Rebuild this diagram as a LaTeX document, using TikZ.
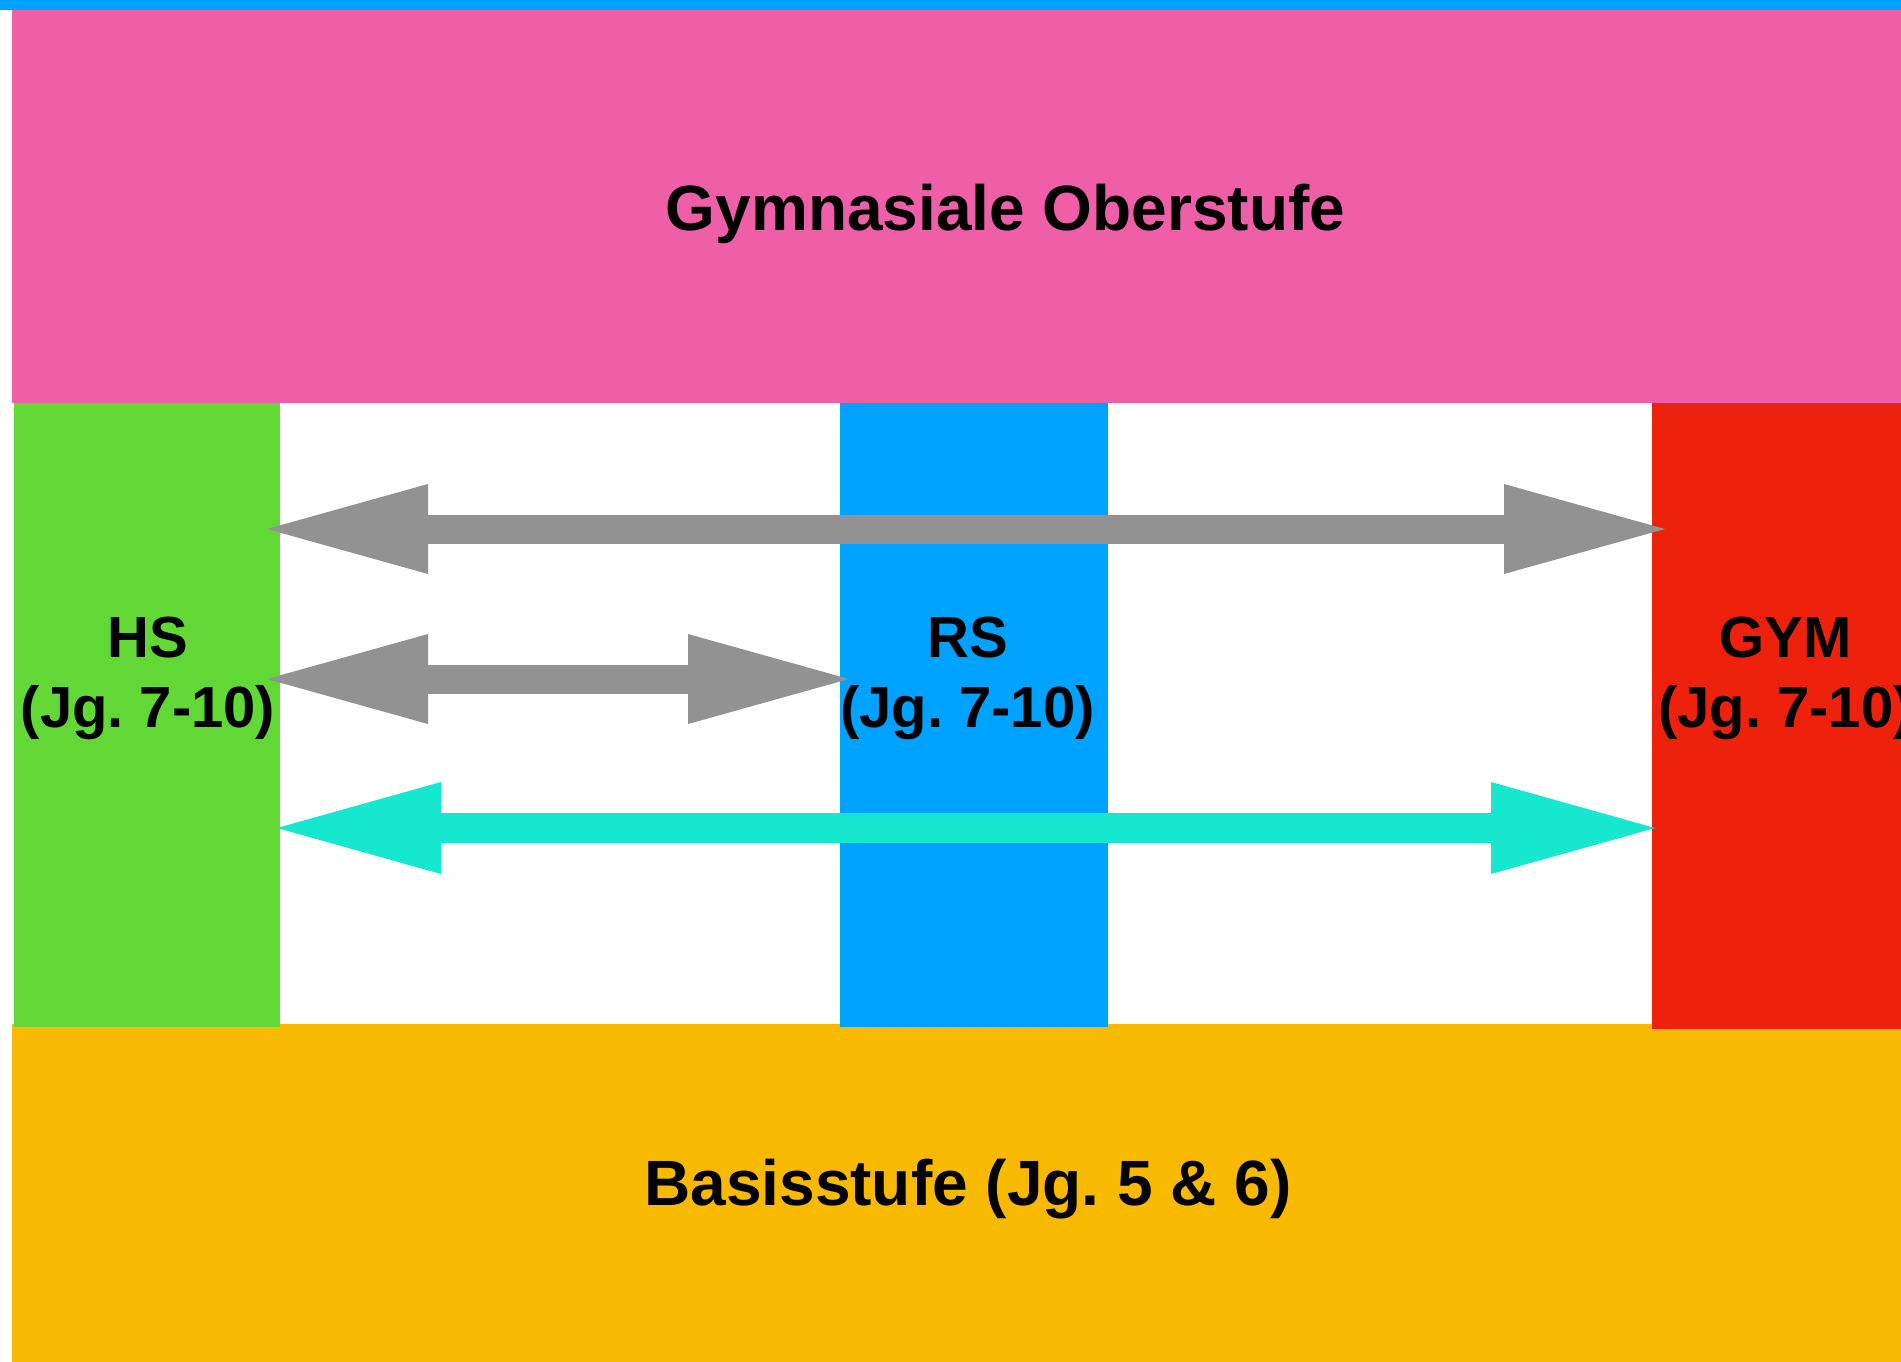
\documentclass[tikz,border=0pt]{standalone}
\usepackage{fontspec}
\setmainfont{Liberation Sans}
\usetikzlibrary{arrows.meta,positioning}

\definecolor{bandblue}{RGB}{0,162,255}
\definecolor{obpink}{RGB}{239,95,167}
\definecolor{hsgreen}{RGB}{97,216,54}
\definecolor{gymred}{RGB}{238,34,12}
\definecolor{basisgold}{RGB}{248,186,0}
\definecolor{wechselgray}{RGB}{146,146,146}
\definecolor{wechselcyan}{RGB}{22,231,207}

\begin{document}
\begin{tikzpicture}[x=0.5pt,y=-0.5pt,
    block/.style={fill=#1,inner sep=0pt,outer sep=0pt,anchor=north west},
    stufe/.style={font=\bfseries\fontsize{29}{35}\selectfont,align=center,anchor=base},
    ebene/.style={font=\bfseries\fontsize{32}{38}\selectfont,anchor=base},
    wechsel/.style={draw=#1,line width=14.5pt,
      {Triangle[length=80.5pt,width=45pt,line width=0pt]}-{Triangle[length=80.5pt,width=45pt,line width=0pt]}}]
    \useasboundingbox (0,0) rectangle (1901,1361);
    \fill[bandblue] (0,0) rectangle (1901,10);
    % stufen
    \node[block=obpink,minimum width=993.5pt,minimum height=196.5pt] (ober) at (12,10) {};
    \node[block=basisgold,minimum width=956pt,minimum height=180pt] (basis) at (12,1024) {};
    \node[block=hsgreen,minimum width=133pt,minimum height=312pt] (hs) at (14,403) {};
    \node[block=bandblue,minimum width=134pt,minimum height=312pt] (rs) at (840,403) {};
    \node[block=gymred,minimum width=133.5pt,minimum height=313pt] (gym) at (1652,403) {};
    % beschriftung
    \node[ebene] (oberlbl) at (1005.5,230) {Gymnasiale Oberstufe};
    \node[ebene] (basislbl) at (968,1205.7) {Basisstufe (Jg.~5 \& 6)};
    \node[stufe] (hslbl) at (148,727) {HS\\(Jg.~7-10)};
    \node[stufe] (rslbl) at (967.5,727) {RS\\(Jg.~7-10)};
    \node[stufe] (gymlbl) at (1785.5,727) {GYM\\(Jg.~7-10)};
    % wechsel
    \coordinate (oben) at (0,529);
    \coordinate (mitte) at (0,679);
    \coordinate (unten) at (0,828);
    \draw[wechsel=wechselgray,shorten <=-6.5pt,shorten >=-6.5pt] (hs.east |- oben) -- (gym.west |- oben);
    \draw[wechsel=wechselgray,shorten <=-6.5pt,shorten >=-4.5pt] (hs.east |- mitte) -- (rs.west |- mitte);
    \draw[wechsel=wechselcyan,line width=14.7pt,shorten <=-1.5pt,shorten >=-1.5pt,
      {Triangle[length=82pt,width=46pt,line width=0pt]}-{Triangle[length=82pt,width=46pt,line width=0pt]}]
      (hs.east |- unten) -- (gym.west |- unten);
\end{tikzpicture}
\end{document}
